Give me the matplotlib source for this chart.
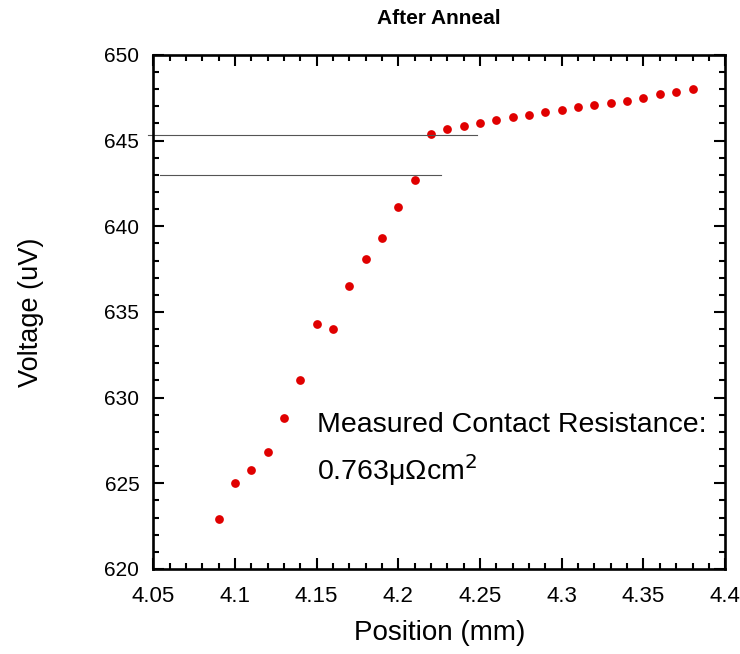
import numpy as np
import matplotlib.pyplot as plt
from matplotlib.ticker import MultipleLocator

plt.rcParams['font.family'] = ['Liberation Sans', 'DejaVu Sans']

# position (mm) and voltage (uV)
position = [4.09, 4.10, 4.11, 4.12, 4.13, 4.14, 4.15, 4.16, 4.17, 4.18,
            4.19, 4.20, 4.21, 4.22, 4.23, 4.24, 4.25, 4.26, 4.27, 4.28,
            4.29, 4.30, 4.31, 4.32, 4.33, 4.34, 4.35, 4.36, 4.37, 4.38]
voltage = [622.9, 625.0, 625.8, 626.8, 628.8, 631.0, 634.3, 634.0, 636.5, 638.1,
           639.3, 641.1, 642.7, 645.4, 645.7, 645.85, 646.0, 646.2, 646.35, 646.5,
           646.65, 646.8, 646.95, 647.1, 647.2, 647.3, 647.5, 647.7, 647.85, 648.0]

# the two reference levels drawn across the jump
level_y = [645.35, 643.0]
level_x0 = [4.047, 4.054]
level_x1 = [4.248, 4.226]

fig = plt.figure(figsize=(7.4, 6.54), dpi=100)
ax = fig.add_axes([0.207, 0.130, 0.773, 0.786])

ax.plot(position, voltage, 'o', color='#e00000', markersize=6.3, markeredgewidth=0)
for y, a, b in zip(level_y, level_x0, level_x1):
    ax.plot([a, b], [y, y], color='#555555', linewidth=0.8, clip_on=False)

ax.set_xlim(4.05, 4.4)
ax.set_ylim(620, 650)
ax.xaxis.set_major_locator(MultipleLocator(0.05))
ax.xaxis.set_minor_locator(MultipleLocator(0.01))
ax.yaxis.set_major_locator(MultipleLocator(5))
ax.yaxis.set_minor_locator(MultipleLocator(1))
ax.set_xticks([4.05, 4.1, 4.15, 4.2, 4.25, 4.3, 4.35, 4.4])
ax.set_xticklabels(['4.05', '4.1', '4.15', '4.2', '4.25', '4.3', '4.35', '4.4'])

ax.tick_params(which='both', direction='in', top=True, right=True, width=1.5)
ax.tick_params(which='major', length=8)
ax.tick_params(which='minor', length=4.5)
ax.tick_params(axis='x', labelsize=16, pad=12)
ax.tick_params(axis='y', labelsize=15, pad=10)
for s in ax.spines.values():
    s.set_linewidth(1.9)

ax.set_xlabel('Position (mm)', fontsize=20)
ax.set_ylabel('Voltage (uV)', fontsize=19.5)
ax.xaxis.set_label_coords(0.5, -0.10)
ax.yaxis.set_label_coords(-0.19, 0.5)
ax.set_title('After Anneal', fontsize=15, fontweight='bold', pad=22)

ax.text(4.15, 628.0, 'Measured Contact Resistance:', fontsize=20.5)
ax.text(4.15, 625.2, '0.763μΩcm$^2$', fontsize=20.5)

fig.savefig('out.png', dpi=100)
